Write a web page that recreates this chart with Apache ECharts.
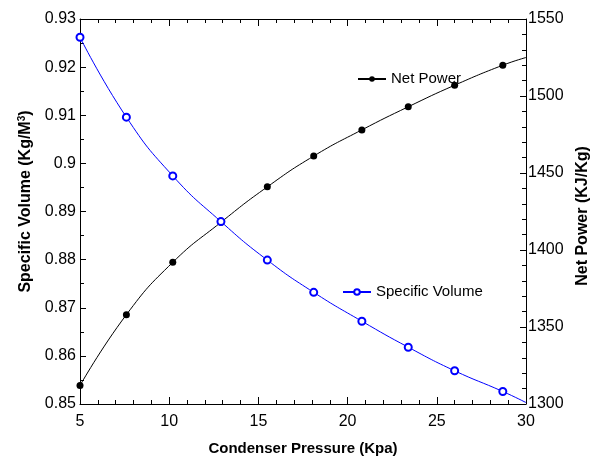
<!DOCTYPE html>
<html>
<head>
<meta charset="utf-8">
<script src="https://cdn.jsdelivr.net/npm/echarts@6/dist/echarts.min.js"></script>
<style>html,body{margin:0;padding:0;background:#fff}#c{width:597px;height:461px}</style>
</head>
<body>
<div id="c"></div>
<script>
// Condenser pressure (Kpa) at each plotted point; last point is line end only
var pressure = [5, 7.6, 10.2, 12.9, 15.5, 18.1, 20.8, 23.4, 26.0, 28.7, 30];
// Net Power (KJ/Kg) - right axis
var netPower = [1312, 1358, 1392, 1418, 1441, 1461, 1478, 1493, 1507, 1520, 1525];
// Specific Volume (Kg/M^3) - left axis
var specVolume = [0.9262, 0.9096, 0.8974, 0.8879, 0.8799, 0.8732, 0.8672, 0.8618, 0.8569, 0.8526, 0.8503];
// axis ranges [min, max, interval, minor splits]
var xRange = [5, 30, 5, 5];
var leftRange = [0.85, 0.93, 0.01, 2];
var rightRange = [1300, 1550, 50, 5];

var FONT = 'Liberation Sans, Arial, sans-serif';

function pts(ys) {
  return pressure.map(function (x, i) {
    var item = { value: [x, ys[i]] };
    if (i === pressure.length - 1) item.symbol = 'none';
    return item;
  });
}
function plain(v) { return String(+v.toFixed(4)); }

function axisBase(r, major) {
  return {
    type: 'value', min: r[0], max: r[1], interval: r[2],
    axisLine: { show: true, onZero: false, lineStyle: { color: '#000', width: 1 } },
    axisTick: { show: true, inside: true, length: major, lineStyle: { color: '#000', width: 1 } },
    minorTick: { show: true, splitNumber: r[3], length: 4, lineStyle: { color: '#000', width: 1 } },
    splitLine: { show: false },
    minorSplitLine: { show: false }
  };
}

var chart = echarts.init(document.getElementById('c'), null, { renderer: 'canvas' });
chart.setOption({
  animation: false,
  backgroundColor: '#fff',
  grid: { left: 80, right: 71, top: 19, bottom: 57, outerBoundsMode: 'none', containLabel: false },
  legend: [
    {
      data: ['Net Power'], left: 352, top: 66.5, itemWidth: 28, itemHeight: 7,
      textStyle: { fontSize: 15, color: '#000', fontFamily: FONT }
    },
    {
      data: ['Specific Volume'], left: 337, top: 279.5, itemWidth: 28, itemHeight: 7,
      textStyle: { fontSize: 15, color: '#000', fontFamily: FONT }
    }
  ],
  xAxis: [
    Object.assign(axisBase(xRange, 7), {
      position: 'bottom',
      axisLabel: { fontSize: 16, color: '#000', fontFamily: FONT, margin: 10, formatter: plain },
      name: 'Condenser Pressure (Kpa)', nameLocation: 'middle', nameGap: 37,
      nameTextStyle: { fontSize: 15, fontWeight: 'bold', color: '#000', fontFamily: FONT }
    }),
    Object.assign(axisBase(xRange, 7), {
      position: 'top',
      axisLabel: { show: false }
    })
  ],
  yAxis: [
    Object.assign(axisBase(leftRange, 6), {
      position: 'left',
      axisLabel: { fontSize: 16, color: '#000', fontFamily: FONT, margin: 4, formatter: plain },
      name: 'Specific Volume (Kg/M{sup|3})', nameLocation: 'middle', nameGap: 34, nameRotate: 90,
      nameTextStyle: {
        fontSize: 16, fontWeight: 'bold', color: '#000', fontFamily: FONT,
        padding: [0, 0, 0, 20],
        rich: { sup: { fontSize: 10, fontWeight: 'bold', color: '#000', fontFamily: FONT, verticalAlign: 'top', padding: [0, 0, 8, 0] } }
      }
    }),
    Object.assign(axisBase(rightRange, 6), {
      position: 'right',
      axisLabel: { fontSize: 16, color: '#000', fontFamily: FONT, margin: 2, formatter: plain },
      name: 'Net Power (KJ/Kg)', nameLocation: 'middle', nameGap: 46, nameRotate: 90,
      nameTextStyle: { fontSize: 16, fontWeight: 'bold', color: '#000', fontFamily: FONT, padding: [0, 9, 0, 0] }
    })
  ],
  series: [
    {
      name: 'Net Power', type: 'line', xAxisIndex: 0, yAxisIndex: 1,
      data: pts(netPower), smooth: true,
      symbol: 'circle', symbolSize: 7,
      lineStyle: { color: '#000', width: 1 },
      itemStyle: { color: '#000' }
    },
    {
      name: 'Specific Volume', type: 'line', xAxisIndex: 0, yAxisIndex: 0,
      data: pts(specVolume), smooth: true,
      symbol: 'emptyCircle', symbolSize: 7,
      lineStyle: { color: '#0000ff', width: 1 },
      itemStyle: { color: '#0000ff', borderColor: '#0000ff', borderWidth: 1 }
    }
  ]
});
</script>
</body>
</html>
